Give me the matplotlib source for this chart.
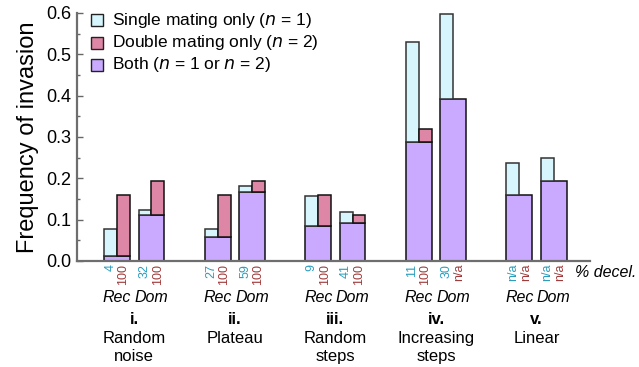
import numpy as np
import matplotlib.pyplot as plt

plt.rcParams['font.family'] = ['Liberation Sans', 'DejaVu Sans']

numerals = ["i.", "ii.", "iii.", "iv.", "v."]
names = ["Random\nnoise", "Plateau", "Random\nsteps", "Increasing\nsteps", "Linear"]

# frequency of invasion, recessive and dominant cases
single_rec = [0.077, 0.077, 0.157, 0.529, 0.238]
double_rec = [0.159, 0.159, 0.159, 0.319, 0.159]
both_rec = [0.011, 0.059, 0.084, 0.288, 0.159]
single_dom = [0.123, 0.182, 0.119, 0.596, 0.250]
double_dom = [0.193, 0.193, 0.110, 0.392, 0.193]
both_dom = [0.110, 0.167, 0.091, 0.392, 0.193]

# % deceleration
decel_rec_single = ["4", "27", "9", "11", "n/a"]
decel_rec_double = ["100", "100", "100", "100", "n/a"]
decel_dom_single = ["32", "59", "41", "30", "n/a"]
decel_dom_double = ["100", "100", "100", "n/a", "n/a"]

c_single = "#d6f5fc"
c_double = "#de86a6"
c_both = "#caaaff"
c_blue_txt = "#2a9dbd"
c_red_txt = "#a03a3a"

fig = plt.figure(figsize=(6.39, 3.67), dpi=100)
ax = fig.add_axes([0.120, 0.289, 0.803, 0.676])

w = 0.256
off = 0.171
x = np.arange(5)

def draw_bar(c, single, double, both):
    ax.bar(c, both, w, color=c_both, edgecolor="#111", lw=1.1, zorder=2)
    if single > both:
        ax.bar(c - w / 4, single - both, w / 2, bottom=both, color=c_single,
               edgecolor="#333", lw=1.1, zorder=2)
    if double > both:
        ax.bar(c + w / 4, double - both, w / 2, bottom=both, color=c_double,
               edgecolor="#111", lw=1.1, zorder=2)

for i in range(5):
    draw_bar(x[i] - off, single_rec[i], double_rec[i], both_rec[i])
    draw_bar(x[i] + off, single_dom[i], double_dom[i], both_dom[i])

ax.set_xlim(-0.573, 4.53)
ax.set_ylim(0, 0.6)
ax.set_yticks(np.arange(0, 0.61, 0.1))
ax.set_yticks(np.arange(0.05, 0.6, 0.1), minor=True)
ax.set_yticklabels(["%.1f" % v for v in np.arange(0, 0.61, 0.1)], fontsize=13)
ax.set_xticks([])
ax.tick_params(axis="y", which="major", direction="in", length=4, width=1, color="#666", pad=4)
ax.tick_params(axis="y", which="minor", direction="in", length=2.5, width=1, color="#666")
for s in ["top", "right"]:
    ax.spines[s].set_visible(False)
for s in ["left", "bottom"]:
    ax.spines[s].set_color("#6e6e6e")
    ax.spines[s].set_linewidth(1.6)

ax.set_ylabel("Frequency of invasion", fontsize=17, labelpad=5)

# labels under the axis
def under(xv, dy, txt, **kw):
    ax.annotate(txt, xy=(xv, 0), xycoords=("data", "axes fraction"),
                xytext=(0, -dy), textcoords="offset pixels", **kw)

for i in range(5):
    for c, s_lab, d_lab, lab in [(x[i] - off, decel_rec_single[i], decel_rec_double[i], "Rec"),
                                 (x[i] + off, decel_dom_single[i], decel_dom_double[i], "Dom")]:
        under(c - w / 4, 3, s_lab, rotation=90, ha="center", va="top",
              fontsize=9, color=c_blue_txt)
        under(c + w / 4, 3, d_lab, rotation=90, ha="center", va="top",
              fontsize=9, color=c_red_txt)
        under(c, 37, lab, ha="center", va="center", fontsize=11.5, style="italic")
    under(x[i], 59, numerals[i], ha="center", va="center", fontsize=12, weight="bold")
    under(x[i], 70, names[i], ha="center", va="top", fontsize=12, linespacing=1.25)

ax.annotate("% decel.", xy=(1, 0), xycoords="axes fraction", xytext=(-15, -12),
            textcoords="offset pixels", ha="left", va="center", fontsize=11.5,
            style="italic", annotation_clip=False)

# legend drawn as boxes with text
legend_items = [(c_single, "Single mating only ($\\it{n}$ = 1)"),
                (c_double, "Double mating only ($\\it{n}$ = 2)"),
                (c_both, "Both ($\\it{n}$ = 1 or $\\it{n}$ = 2)")]
for k, (col, txt) in enumerate(legend_items):
    ypix = [20, 43, 65][k]
    yf = 1 - ypix / 367
    fig.patches.append(plt.Rectangle((91 / 639, yf - 6 / 367), 12 / 639, 12 / 367,
                                     transform=fig.transFigure, facecolor=col,
                                     edgecolor="#222", lw=1))
    fig.text(112 / 639, yf, txt, ha="left", va="center", fontsize=12.5)

fig.savefig("out.png", dpi=100)
